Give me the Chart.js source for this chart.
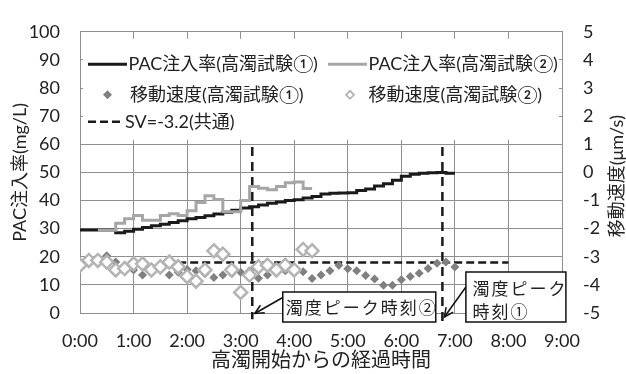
<!DOCTYPE html>
<html>
<head>
<meta charset="utf-8">
<script src="https://cdn.jsdelivr.net/npm/chart.js@4.4.1/dist/chart.umd.min.js"></script>
<style>
  html, body { margin: 0; padding: 0; background: #fff; }
  #wrap { width: 626px; height: 374px; position: relative; }
</style>
</head>
<body>
<div id="wrap"><canvas id="c" width="626" height="374"></canvas></div>
<script>
// Sampling times (h:mm after the turbidity rise began), 10-minute steps
const times = ['0:00','0:10','0:20','0:30','0:40','0:50','1:00','1:10','1:20','1:30','1:40','1:50',
  '2:00','2:10','2:20','2:30','2:40','2:50','3:00','3:10','3:20','3:30','3:40','3:50',
  '4:00','4:10','4:20','4:30','4:40','4:50','5:00','5:10','5:20','5:30','5:40','5:50',
  '6:00','6:10','6:20','6:30','6:40','6:50','7:00'];

// PAC dosing rate (mg/L), test 1: 0:00 - 7:00
const pac1 = [29.5,29.5,29.5,29.5,28.5,29.1,29.8,30.4,31.0,31.6,32.2,32.8,
  33.5,34.0,34.6,35.2,35.8,36.5,37.3,37.8,38.4,39.0,39.5,40.0,
  40.3,40.9,41.4,42.3,42.6,42.7,42.8,43.6,44.1,45.2,46.0,47.2,
  48.6,49.3,49.7,49.9,50.0,49.7,49.7];

// PAC dosing rate (mg/L), test 2: 0:20 - 4:20
const pac2Times = times.slice(2, 27);
const pac2 = [29.4,29.4,31.9,33.5,34.7,33.0,33.0,34.7,35.3,34.7,
  36.4,39.3,41.7,40.4,36.0,36.0,40.0,45.0,44.4,43.8,45.0,46.3,
  46.6,44.3,44.3];

// Settling velocity (µm/s), test 1: 0:00 - 7:00
const speed1 = [-3.20,-3.15,-3.10,-2.96,-3.19,-3.35,-3.47,-3.65,-3.50,-3.45,-3.65,-3.55,
  -3.45,-3.50,-3.60,-3.74,-3.65,-3.60,-3.55,-3.50,-3.76,-3.65,-3.55,-3.50,
  -3.45,-3.53,-3.77,-3.65,-3.50,-3.30,-3.43,-3.50,-3.67,-3.79,-4.01,-4.01,
  -3.82,-3.70,-3.59,-3.42,-3.23,-3.19,-3.36];

// Settling velocity (µm/s), test 2: 0:00 - 4:20
const speed2Times = times.slice(0, 27);
const speed2 = [-3.30,-3.13,-3.13,-3.19,-3.47,-3.42,-3.25,-3.25,-3.47,-3.36,-3.19,-3.36,
  -3.70,-3.87,-3.47,-2.79,-2.91,-3.47,-4.27,-3.65,-3.36,-3.30,-3.47,-3.30,
  -3.47,-2.74,-2.79];

// Common SV reference line
const svTimes = ['1:50', '8:00'];
const svValue = -3.2;

// Turbidity peak times: test 1, test 2
const peakTimes = ['6:46', '3:13'];
const peakLabels = [['濁度ピーク', '時刻①'], ['濁度ピーク時刻②']];
const peakLineTop = [59, 59];        // mg/L axis units
const peakLineBottom = [-4.8, -2.2];

// Axis tick labels
const hourTicks = ['0:00','1:00','2:00','3:00','4:00','5:00','6:00','7:00','8:00','9:00'];

const FONT = "Lato, 'Noto Sans CJK JP', sans-serif";
const INK = '#222222';
const GRID = '#8f8f8f';

const toHours = s => { const [h, m] = s.split(':').map(Number); return h + m / 60; };
const pts = (ts, vs) => ts.map((t, i) => ({ x: toHours(t), y: vs[i] }));

const datasets = [
  {
    label: '移動速度(高濁試験②)', data: pts(speed2Times, speed2), yAxisID: 'y2',
    showLine: false, pointStyle: 'rectRot', pointRadius: 6.5, pointBorderWidth: 2.5,
    pointBorderColor: '#b4b4b4', pointBackgroundColor: '#ffffff', order: 0
  },
  {
    label: '移動速度(高濁試験①)', data: pts(times, speed1), yAxisID: 'y2',
    showLine: false, pointStyle: 'rectRot', pointRadius: 4.5, pointBorderWidth: 0,
    pointBackgroundColor: '#808080', order: 1
  },
  {
    label: 'PAC注入率(高濁試験②)', data: pts(pac2Times, pac2), yAxisID: 'y',
    stepped: true, borderColor: '#a6a6a6', borderWidth: 3, pointRadius: 0, order: 2
  },
  {
    label: 'PAC注入率(高濁試験①)', data: pts(times, pac1), yAxisID: 'y',
    stepped: true, borderColor: '#1a1a1a', borderWidth: 3, pointRadius: 0, order: 3
  },
  {
    label: 'SV=-3.2(共通)', data: svTimes.map(t => ({ x: toHours(t), y: svValue })), yAxisID: 'y2',
    borderColor: '#1a1a1a', borderWidth: 2.5, borderDash: [8, 4], pointRadius: 0, order: 4
  }
];
peakTimes.forEach((t, i) => {
  datasets.push({
    label: 'peak' + i, data: [{ x: toHours(t), y: peakLineTop[i] }, { x: toHours(t), y: peakLineBottom[i] }],
    yAxisID: 'y', borderColor: '#1a1a1a', borderWidth: 2.5, borderDash: [9, 6],
    pointRadius: 0, clip: false, order: 5
  });
});

function arrow(ctx, x0, y0, x1, y1) {
  ctx.beginPath(); ctx.moveTo(x0, y0); ctx.lineTo(x1, y1); ctx.stroke();
  const a = Math.atan2(y1 - y0, x1 - x0), L = 10, s = 0.45;
  ctx.beginPath();
  ctx.moveTo(x1 - L * Math.cos(a - s), y1 - L * Math.sin(a - s));
  ctx.lineTo(x1, y1);
  ctx.lineTo(x1 - L * Math.cos(a + s), y1 - L * Math.sin(a + s));
  ctx.stroke();
}

const decor = {
  id: 'decor',
  afterDatasetsDraw(chart) {
    const ctx = chart.ctx;
    const { left, right, top } = chart.chartArea;
    const byLabel = l => chart.data.datasets.find(d => d.label === l);
    ctx.save();
    // legend panel
    ctx.fillStyle = '#fff';
    ctx.fillRect(left + 3, top + 7, right - left - 6, 101);
    ctx.font = '18px ' + FONT;
    ctx.textBaseline = 'middle';
    ctx.textAlign = 'left';
    ctx.fillStyle = INK;
    const r1 = top + 32.5, r2 = top + 63, r3 = top + 90;
    const line = (x0, x1, y, ds) => {
      ctx.save();
      ctx.strokeStyle = ds.borderColor; ctx.lineWidth = ds.borderWidth;
      ctx.setLineDash(ds.borderDash || []);
      ctx.beginPath(); ctx.moveTo(x0, y); ctx.lineTo(x1, y); ctx.stroke();
      ctx.restore();
    };
    const diamond = (x, y, r, fill, stroke, lw) => {
      ctx.save();
      ctx.beginPath();
      ctx.moveTo(x - r, y); ctx.lineTo(x, y - r); ctx.lineTo(x + r, y); ctx.lineTo(x, y + r); ctx.closePath();
      ctx.fillStyle = fill; ctx.fill();
      if (stroke) { ctx.strokeStyle = stroke; ctx.lineWidth = lw; ctx.stroke(); }
      ctx.restore();
    };
    const dsP1 = byLabel('PAC注入率(高濁試験①)'), dsP2 = byLabel('PAC注入率(高濁試験②)');
    const dsSV = byLabel('SV=-3.2(共通)');
    line(left + 8, left + 47, r1, dsP1);
    ctx.fillText(dsP1.label, left + 48.5, r1);
    line(left + 248, left + 287, r1, dsP2);
    ctx.fillText(dsP2.label, left + 288.5, r1);
    diamond(left + 27.5, r2, 4.5, '#808080');
    ctx.fillText('移動速度(高濁試験①)', left + 50, r2);
    diamond(left + 270, r2, 4, '#ffffff', '#b4b4b4', 1.8);
    ctx.fillText('移動速度(高濁試験②)', left + 288.5, r2);
    ctx.save();
    ctx.strokeStyle = dsSV.borderColor; ctx.lineWidth = 2.5; ctx.setLineDash([8, 4]);
    ctx.beginPath(); ctx.moveTo(left + 8, r3); ctx.lineTo(left + 40, r3); ctx.stroke();
    ctx.restore();
    ctx.fillText(dsSV.label, left + 45, r3);
    ctx.restore();
  },
  afterDraw(chart) {
    const ctx = chart.ctx;
    const xs = chart.scales.x;
    ctx.save();
    ctx.strokeStyle = '#111'; ctx.fillStyle = '#fff'; ctx.lineWidth = 1.5;
    ctx.font = "17px 'Noto Sans CJK JP', sans-serif";
    ctx.textBaseline = 'middle'; ctx.textAlign = 'left';
    if ('letterSpacing' in ctx) ctx.letterSpacing = '2px';

    // callout for test 2 peak
    const p2 = xs.getPixelForValue(toHours(peakTimes[1]));
    ctx.fillStyle = '#fff';
    ctx.fillRect(p2 + 30.5, 292, 153, 30); ctx.strokeRect(p2 + 30.5, 292, 153, 30);
    ctx.fillStyle = INK;
    ctx.fillText(peakLabels[1][0], p2 + 33.5, 307.5);
    arrow(ctx, p2 + 30.5, 297.5, p2 + 2.5, 313.5);

    // callout for test 1 peak
    const p1 = xs.getPixelForValue(toHours(peakTimes[0]));
    ctx.fillStyle = '#fff';
    ctx.fillRect(p1 + 23.5, 272, 100, 50); ctx.strokeRect(p1 + 23.5, 272, 100, 50);
    ctx.fillStyle = INK;
    ctx.fillText(peakLabels[0][0], p1 + 30, 288.5);
    ctx.fillText(peakLabels[0][1], p1 + 30, 311.5);
    arrow(ctx, p1 + 23.5, 287, p1 + 2, 317);
    ctx.restore();

    // right axis title, reading bottom-to-top
    ctx.save();
    ctx.translate(617.5, 176);
    ctx.rotate(-Math.PI / 2);
    ctx.font = '18px ' + FONT;
    ctx.fillStyle = INK; ctx.textAlign = 'center'; ctx.textBaseline = 'middle';
    ctx.fillText('移動速度(μm/s)', 0, 0);
    ctx.restore();
  }
};

new Chart(document.getElementById('c'), {
  type: 'line',
  data: { datasets },
  options: {
    responsive: false,
    animation: false,
    layout: { padding: { top: 20, left: 0, right: 0, bottom: 0 } },
    plugins: { legend: { display: false }, tooltip: { enabled: false } },
    scales: {
      x: {
        type: 'linear', min: 0, max: 9,
        afterFit: s => { s.height = 61; },
        afterBuildTicks: s => { s.ticks = hourTicks.map(t => ({ value: toHours(t) })); },
        ticks: {
          callback: (v) => hourTicks.find(t => toHours(t) === v) || '',
          font: { family: FONT, size: 18 }, color: INK, padding: 17, maxRotation: 0, autoSkip: false
        },
        grid: { color: GRID, lineWidth: 1, drawTicks: false },
        border: { color: GRID },
        title: { display: true, text: '高濁開始からの経過時間', font: { family: FONT, size: 20 }, color: INK, padding: { top: 0, bottom: 1 } }
      },
      y: {
        position: 'left', min: 0, max: 100,
        afterFit: s => { s.width = 80; },
        ticks: { stepSize: 10, font: { family: FONT, size: 18 }, color: INK, padding: 20 },
        grid: { color: GRID, lineWidth: 1, drawTicks: false },
        border: { color: GRID },
        title: { display: true, text: 'PAC注入率(mg/L)', font: { family: FONT, size: 18 }, color: INK, padding: { top: 9, bottom: 0 } }
      },
      y2: {
        position: 'right', min: -5, max: 5,
        afterFit: s => { s.width = 64; },
        ticks: { stepSize: 1, font: { family: FONT, size: 18 }, color: INK, padding: 21 },
        grid: { drawOnChartArea: false, drawTicks: false },
        border: { color: GRID }
      }
    }
  },
  plugins: [decor]
});
</script>
</body>
</html>
